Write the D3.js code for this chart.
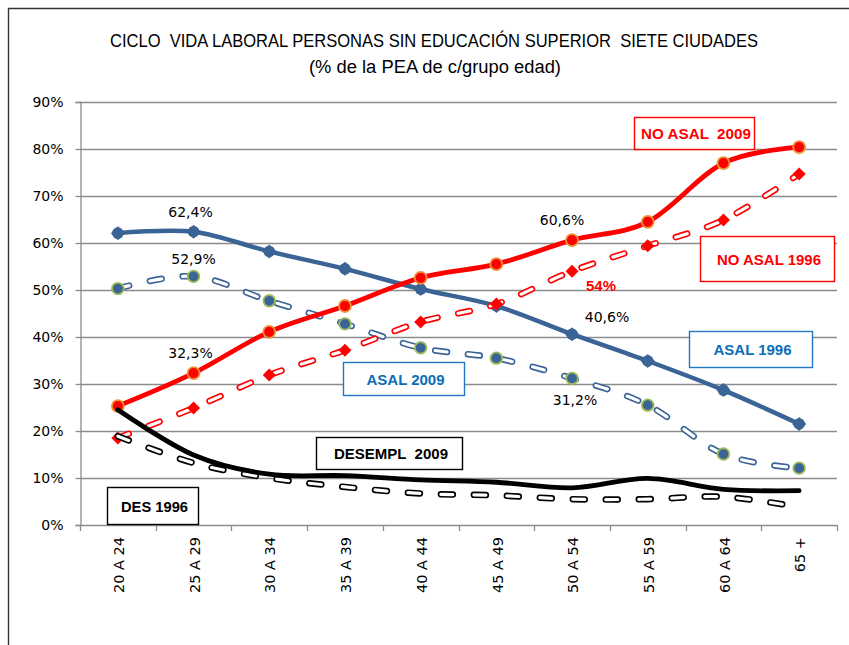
<!DOCTYPE html>
<html>
<head>
<meta charset="utf-8">
<script src="https://cdn.jsdelivr.net/npm/d3@7"></script>
<style>
  html, body { margin: 0; padding: 0; background: #fff; }
  svg { display: block; }
  text { white-space: pre; }
</style>
</head>
<body>
<svg id="chart" width="849" height="645"></svg>
<script>
// ---------------- data ----------------
const categories = ["20 A 24","25 A 29","30 A 34","35 A 39","40 A 44","45 A 49","50 A 54","55 A 59","60 A 64","65 +"];
const asal1996   = [62.1, 62.4, 58.2, 54.5, 50.2, 46.6, 40.6, 34.9, 28.7, 21.5];
const asal2009   = [50.3, 52.9, 47.7, 42.8, 37.7, 35.5, 31.2, 25.5, 15.1, 12.1];
const noAsal2009 = [25.3, 32.3, 41.1, 46.6, 52.6, 55.5, 60.6, 64.5, 77.0, 80.4];
const noAsal1996 = [18.5, 24.9, 31.9, 37.2, 43.2, 47.0, 54.0, 59.4, 64.9, 74.7];
const desempl2009= [24.5, 14.9, 10.8, 10.5, 9.6, 9.1, 7.9, 9.9, 7.6, 7.3];
const des1996    = [18.9, 13.2, 10.0, 8.1, 6.7, 6.3, 5.5, 5.5, 6.0, 3.8];
const yTicks = [0,10,20,30,40,50,60,70,80,90];
const titleLines = ["CICLO  VIDA LABORAL PERSONAS SIN EDUCACIÓN SUPERIOR  SIETE CIUDADES", "(% de la PEA de c/grupo edad)"];

// ---------------- setup ----------------
const svg = d3.select("#chart");
const W = 849, H = 645;
const plot = {left: 80, right: 837, top: 102, bottom: 525};
const x = d3.scaleBand().domain(categories).range([plot.left, plot.right]);
const cx = c => x(c) + x.bandwidth()/2;
const y = d3.scaleLinear().domain([0, 90]).range([plot.bottom, plot.top]);

const BLUE = "#3A6396", RED = "#FF0000", BLACK = "#000000";
const GRID = "#8C8C8C";

// outer frame
svg.append("line").attr("x1", 8).attr("x2", W).attr("y1", 8.5).attr("y2", 8.5).attr("stroke", "#333").attr("stroke-width", 1.6);
svg.append("line").attr("x1", 8.5).attr("x2", 8.5).attr("y1", 8).attr("y2", H).attr("stroke", "#333").attr("stroke-width", 1.4);

// title
svg.append("text").attr("x", 434).attr("y", 47).attr("text-anchor", "middle")
  .attr("font-family", "'Liberation Sans Narrow', 'Arial Narrow', 'Liberation Sans', sans-serif")
  .attr("font-size", 18).attr("fill", "#000")
  .attr("textLength", 648).attr("lengthAdjust", "spacingAndGlyphs")
  .text(titleLines[0]);
svg.append("text").attr("x", 435).attr("y", 73).attr("text-anchor", "middle")
  .attr("font-family", "'Liberation Sans Narrow', 'Arial Narrow', 'Liberation Sans', sans-serif")
  .attr("font-size", 18).attr("fill", "#000")
  .attr("textLength", 252).attr("lengthAdjust", "spacingAndGlyphs")
  .text(titleLines[1]);

// gridlines
svg.append("g").selectAll("line").data(yTicks.filter(d => d > 0)).join("line")
  .attr("x1", plot.left).attr("x2", plot.right)
  .attr("y1", d => Math.round(y(d)) + 0.5).attr("y2", d => Math.round(y(d)) + 0.5)
  .attr("stroke", GRID).attr("stroke-width", 1.3);

// y axis
const yAxis = svg.append("g").attr("transform", `translate(${plot.left + 0.5},0)`)
  .call(d3.axisLeft(y).tickValues(yTicks).tickFormat(d => d + "%").tickSize(5).tickPadding(12));
yAxis.select(".domain").attr("stroke", GRID).attr("stroke-width", 1.3);
yAxis.selectAll(".tick line").attr("stroke", GRID).attr("stroke-width", 1.3);
yAxis.selectAll(".tick text").attr("font-family", "'DejaVu Sans', Verdana, sans-serif").attr("font-size", 14).attr("fill", "#000");

// x axis
svg.append("line").attr("x1", plot.left).attr("x2", plot.right)
  .attr("y1", plot.bottom + 0.5).attr("y2", plot.bottom + 0.5).attr("stroke", GRID).attr("stroke-width", 1.3);
const bounds = categories.map(c => x(c)).concat([plot.right]);
svg.append("g").selectAll("line").data(bounds).join("line")
  .attr("x1", d => Math.round(d) + 0.5).attr("x2", d => Math.round(d) + 0.5)
  .attr("y1", plot.bottom).attr("y2", plot.bottom + 6)
  .attr("stroke", GRID).attr("stroke-width", 1.3);
svg.append("g").selectAll("text").data(categories).join("text")
  .attr("transform", d => `translate(${cx(d) + 1},${plot.bottom + 12}) rotate(-90)`)
  .attr("text-anchor", "end").attr("dy", "0.36em")
  .attr("font-family", "'DejaVu Sans', Verdana, sans-serif").attr("font-size", 14.5).attr("fill", "#000")
  .text(d => d);

// ---------------- lines ----------------
const lineGen = d3.line().x((d, i) => cx(categories[i])).y(d => y(d)).curve(d3.curveCardinal.tension(0));

function solidLine(vals, color, width) {
  svg.append("path").attr("d", lineGen(vals)).attr("fill", "none")
    .attr("stroke", color).attr("stroke-width", width)
    .attr("stroke-linejoin", "round").attr("stroke-linecap", "round");
}
function hollowDash(vals, color) {
  const d = lineGen(vals);
  svg.append("path").attr("d", d).attr("fill", "none")
    .attr("stroke", color).attr("stroke-width", 6.5)
    .attr("stroke-dasharray", "12 21").attr("stroke-linecap", "round");
  svg.append("path").attr("d", d).attr("fill", "none")
    .attr("stroke", "#fff").attr("stroke-width", 3.2)
    .attr("stroke-dasharray", "12 21").attr("stroke-linecap", "round");
}
function circles(vals, fill, stroke, r) {
  svg.append("g").selectAll("circle").data(vals).join("circle")
    .attr("cx", (d, i) => cx(categories[i])).attr("cy", d => y(d)).attr("r", r)
    .attr("fill", fill).attr("stroke", stroke).attr("stroke-width", stroke === "none" ? 0 : 1.8);
}
function diamonds(vals, fill, s) {
  svg.append("g").selectAll("path").data(vals).join("path")
    .attr("d", (d, i) => {
      const px = cx(categories[i]), py = y(d);
      return `M${px},${py - s}L${px + s},${py}L${px},${py + s}L${px - s},${py}Z`;
    })
    .attr("fill", fill);
}

// ASAL 2009 (dashed blue)
hollowDash(asal2009, BLUE);
circles(asal2009, BLUE, "#9BBB59", 5.8);
// ASAL 1996 (solid blue)
solidLine(asal1996, BLUE, 4.5);
circles(asal1996, BLUE, "none", 5.8);
diamonds(asal1996, BLUE, 7);
// NO ASAL 1996 (dashed red)
hollowDash(noAsal1996, RED);
diamonds(noAsal1996, RED, 6.5);
// NO ASAL 2009 (solid red)
solidLine(noAsal2009, RED, 4.8);
circles(noAsal2009, RED, "#E8963A", 6);
// DES 1996 (dashed black)
hollowDash(des1996, BLACK);
// DESEMPL 2009 (solid black)
solidLine(desempl2009, BLACK, 4.8);

// ---------------- data labels ----------------
const dl = [
  {txt: "62,4%", cat: 1, val: asal1996[1],  dx: -3, dy: -15, color: "#000", bold: false},
  {txt: "52,9%", cat: 1, val: asal2009[1],  dx: 0,  dy: -12, color: "#000", bold: false},
  {txt: "32,3%", cat: 1, val: noAsal2009[1],dx: -3, dy: -15, color: "#000", bold: false},
  {txt: "60,6%", cat: 6, val: noAsal2009[6],dx: -10,dy: -15, color: "#000", bold: false},
  {txt: "54%",   cat: 6, val: noAsal1996[6],dx: 29, dy: 20, color: RED,  bold: true},
  {txt: "40,6%", cat: 6, val: asal1996[6],  dx: 35, dy: -12, color: "#000", bold: false},
  {txt: "31,2%", cat: 6, val: asal2009[6],  dx: 3,  dy: 27, color: "#000", bold: false}
];
svg.append("g").selectAll("text").data(dl).join("text")
  .attr("x", d => cx(categories[d.cat]) + d.dx)
  .attr("y", d => y(d.val) + d.dy)
  .attr("text-anchor", "middle")
  .attr("font-family", d => d.bold ? "'Liberation Sans', Arial, sans-serif" : "'DejaVu Sans', Verdana, sans-serif")
  .attr("font-weight", d => d.bold ? "bold" : "normal")
  .attr("font-size", d => d.bold ? 15 : 14)
  .attr("fill", d => d.color)
  .text(d => d.txt);

// ---------------- series label boxes ----------------
const boxes = [
  {txt: "NO ASAL  2009", x0: 634, y0: 117, x1: 754, y1: 149, tw: 110, color: RED,       text: RED},
  {txt: "NO ASAL 1996",  x0: 700, y0: 236, x1: 834, y1: 281, tw: 104, color: RED,       text: RED},
  {txt: "ASAL 1996",     x0: 689, y0: 331, x1: 812, y1: 367, tw: 78,  color: "#1F78C1", text: "#0B6DB8"},
  {txt: "ASAL 2009",     x0: 343, y0: 362, x1: 464, y1: 395, tw: 78,  color: "#1F78C1", text: "#0B6DB8"},
  {txt: "DESEMPL  2009", x0: 316, y0: 437, x1: 462, y1: 469, tw: 114, color: BLACK,     text: BLACK},
  {txt: "DES 1996",      x0: 107, y0: 487, x1: 198, y1: 524, tw: 67,  color: BLACK,     text: BLACK}
];
const bg = svg.append("g").selectAll("g").data(boxes).join("g");
bg.append("rect")
  .attr("x", d => d.x0 + 0.5).attr("y", d => d.y0 + 0.5)
  .attr("width", d => d.x1 - d.x0).attr("height", d => d.y1 - d.y0)
  .attr("fill", "#fff").attr("stroke", d => d.color).attr("stroke-width", 1.4);
bg.append("text")
  .attr("x", d => (d.x0 + d.x1) / 2 + 2).attr("y", d => (d.y0 + d.y1) / 2 + 6)
  .attr("text-anchor", "middle")
  .attr("font-family", "'Liberation Sans', Arial, sans-serif").attr("font-weight", "bold").attr("font-size", 15)
  .attr("fill", d => d.text)
  .attr("textLength", d => d.tw).attr("lengthAdjust", "spacingAndGlyphs")
  .text(d => d.txt);
</script>
</body>
</html>
